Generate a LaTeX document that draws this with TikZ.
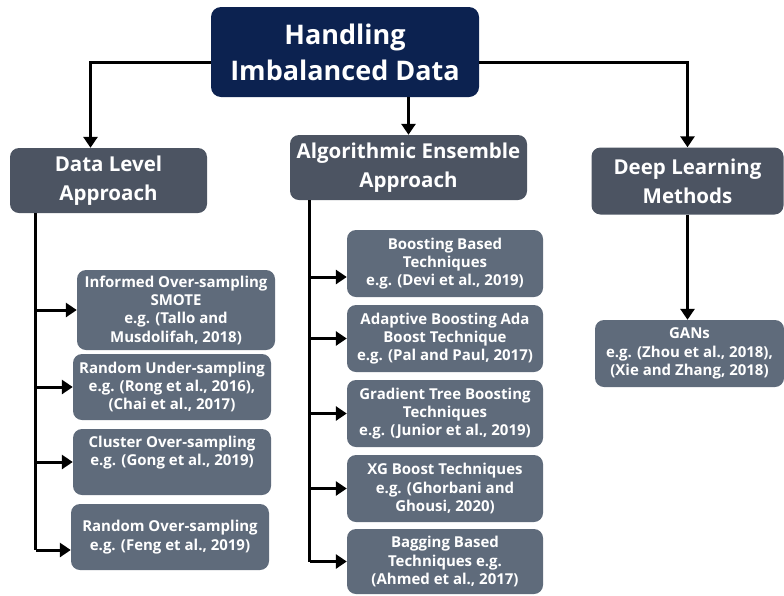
\documentclass[tikz,border=0pt]{standalone}
\usepackage{fontspec}
\setmainfont{Open Sans}
\usetikzlibrary{arrows.meta}
\definecolor{rootblue}{HTML}{0C2250}
\definecolor{levelgrey}{HTML}{4C5462}
\definecolor{leafgrey}{HTML}{5F6B7B}
\tikzset{
  rootbox/.style={fill=rootblue, rounded corners=10pt, text=white, align=center, inner sep=0pt,
    font=\fontsize{27}{36}\selectfont\bfseries},
  levelbox/.style={fill=levelgrey, rounded corners=9pt, text=white, align=center, inner sep=0pt,
    font=\fontsize{20.5}{29}\selectfont\bfseries},
  leafbox/.style={fill=leafgrey, rounded corners=9pt, text=white, align=center, inner sep=0pt,
    font=\fontsize{15}{18.3}\selectfont\bfseries},
  arr/.style={line width=3pt, -{Triangle[length=11pt,width=14pt]}},
  trunk/.style={line width=3pt}
}
\begin{document}
\begin{tikzpicture}[x=1pt,y=-1pt]
\useasboundingbox (0,0) rectangle (784,595);

% root
\node[rootbox, minimum width=268pt, minimum height=90pt] (root) at (345,52)
  {Handling\\Imbalanced Data};

% second level
\node[levelbox, minimum width=197pt, minimum height=65pt] (dl) at (108.5,180.5)
  {Data Level\\Approach};
\node[levelbox, minimum width=237pt, minimum height=65pt] (alg) at (408.5,167.5)
  {Algorithmic Ensemble\\Approach};
\node[levelbox, minimum width=192pt, minimum height=67pt] (deep) at (687.5,181)
  {Deep Learning\\Methods};

% data level leaves
\node[leafbox, minimum width=198pt, minimum height=80pt] (c1) at (176,310)
  {Informed Over-sampling\\SMOTE\\e.g. (Tallo and\\Musdolifah, 2018)};
\node[leafbox, minimum width=198pt, minimum height=66pt] (c2) at (172,387)
  {Random Under-sampling\\e.g. (Rong et al., 2016),\\(Chai et al., 2017)};
\node[leafbox, minimum width=198pt, minimum height=66pt] (c3) at (172,462)
  {Cluster Over-sampling\\e.g. (Gong et al., 2019)\\[4pt]};
\node[leafbox, minimum width=198pt, minimum height=66pt] (c4) at (170,537)
  {Random Over-sampling\\e.g. (Feng et al., 2019)};

% ensemble leaves
\node[leafbox, minimum width=196pt, minimum height=67pt] (a1) at (445,263.5)
  {Boosting Based\\Techniques\\e.g. (Devi et al., 2019)};
\node[leafbox, minimum width=196pt, minimum height=67pt] (a2) at (445,338.5)
  {Adaptive Boosting Ada\\Boost Technique\\e.g. (Pal and Paul, 2017)};
\node[leafbox, minimum width=196pt, minimum height=67pt] (a3) at (445,413.5)
  {Gradient Tree Boosting\\Techniques\\e.g. (Junior et al., 2019)};
\node[leafbox, minimum width=196pt, minimum height=67pt] (a4) at (445,488.5)
  {XG Boost Techniques\\e.g. (Ghorbani and\\Ghousi, 2020)};
\node[leafbox, minimum width=196pt, minimum height=65pt] (a5) at (445,561.5)
  {Bagging Based\\Techniques e.g.\\(Ahmed et al., 2017)};

% deep learning leaf
\node[leafbox, minimum width=189pt, minimum height=67pt] (gans) at (689.5,353.5)
  {GANs\\e.g. (Zhou et al., 2018),\\(Xie and Zhang, 2018)};

% root to second level
\draw[arr] ([yshift=-10pt]root.west) -| ([xshift=-18pt]dl.north);
\draw[arr] ([yshift=-10pt]root.east) -| (deep.north);
\draw[arr] (root.south -| alg.north) -- (alg.north);

% data level trunk and branches
\path (dl.south west) ++(26,0) coordinate (dlt);
\coordinate (dlb) at (36,550);
\draw[trunk] (dlt) -- (dlt |- dlb);
\draw[arr] (dlt |- c1.west) -- (c1.west);
\draw[arr] (dlt |- c2.west) -- (c2.west);
\draw[arr] (dlt |- c3.west) -- (c3.west);
\draw[arr] (dlt |- dlb) -- (c4.west |- dlb);

% ensemble trunk and branches
\path (alg.south west) ++(20,0) coordinate (agt);
\coordinate (agb) at (310,561.5);
\coordinate (ag1) at (310,277);
\draw[trunk] (agt) -- (agt |- agb);
\draw[arr] (agt |- ag1) -- (a1.west |- ag1);
\draw[arr] (agt |- a2.west) -- (a2.west);
\draw[arr] (agt |- a3.west) -- (a3.west);
\draw[arr] (agt |- a4.west) -- (a4.west);
\draw[arr] (agt |- a5.west) -- (a5.west);

% deep learning branch
\draw[arr] (deep.south) -- (deep.south |- gans.north);
\end{tikzpicture}
\end{document}
